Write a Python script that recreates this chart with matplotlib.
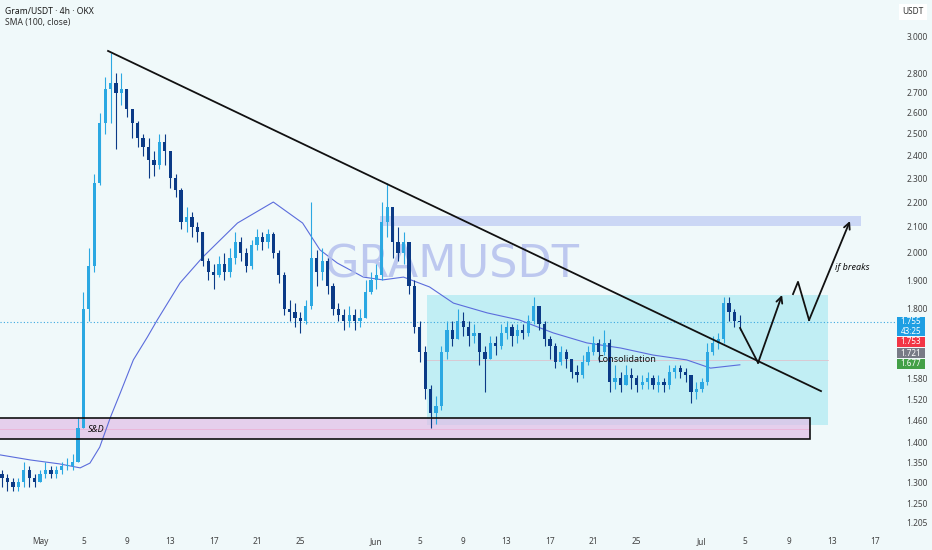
import matplotlib
matplotlib.use("Agg")
import matplotlib.pyplot as plt
from matplotlib.patches import Rectangle

plt.rcParams["font.family"] = ["Noto Sans", "DejaVu Sans"]

# 12h candles, first one at day -3.5 (days counted from May 1)
first_day = -3.5
step = 0.5
closes = [
    1.31, 1.30, 1.29, 1.30, 1.33, 1.31, 1.30, 1.32, 1.33, 1.32,
    1.33, 1.34, 1.34, 1.35, 1.44, 1.80, 1.95, 2.28, 2.55, 2.72,
    2.75, 2.70, 2.72, 2.62, 2.55, 2.48, 2.44, 2.38, 2.36, 2.46,
    2.42, 2.30, 2.25, 2.12, 2.14, 2.10, 2.08, 1.97, 1.93, 1.92,
    1.96, 1.93, 1.98, 2.04, 2.00, 1.95, 2.03, 2.06, 2.04, 2.07,
    2.00, 1.92, 1.80, 1.79, 1.77, 1.76, 1.81, 1.98, 1.93, 1.97,
    1.88, 1.80, 1.78, 1.76, 1.78, 1.76, 1.77, 1.86, 1.90, 1.92,
    2.12, 2.18, 2.04, 2.00, 2.04, 1.88, 1.74, 1.66, 1.55, 1.48,
    1.50, 1.66, 1.73, 1.70, 1.76, 1.74, 1.71, 1.72, 1.66, 1.64,
    1.69, 1.68, 1.72, 1.74, 1.71, 1.73, 1.72, 1.76, 1.81, 1.75,
    1.70, 1.68, 1.63, 1.66, 1.64, 1.60, 1.59, 1.63, 1.66, 1.69,
    1.66, 1.69, 1.57, 1.58, 1.56, 1.59, 1.58, 1.56, 1.57, 1.58,
    1.56, 1.57, 1.56, 1.60, 1.61, 1.60, 1.59, 1.54, 1.55, 1.57,
    1.66, 1.69, 1.70, 1.82, 1.79, 1.76, 1.755,
]
highs = [
    1.33, 1.32, 1.31, 1.31, 1.35, 1.34, 1.32, 1.33, 1.35, 1.34,
    1.34, 1.35, 1.36, 1.37, 1.47, 1.86, 2.02, 2.32, 2.60, 2.78,
    2.91, 2.80, 2.80, 2.72, 2.62, 2.56, 2.50, 2.48, 2.42, 2.50,
    2.50, 2.40, 2.32, 2.26, 2.18, 2.16, 2.12, 2.08, 1.98, 1.96,
    1.99, 2.00, 2.02, 2.08, 2.06, 2.02, 2.05, 2.09, 2.08, 2.09,
    2.08, 2.01, 1.93, 1.83, 1.82, 1.79, 1.83, 2.20, 2.01, 2.02,
    1.98, 1.89, 1.82, 1.80, 1.81, 1.80, 1.80, 1.90, 1.93, 1.96,
    2.20, 2.28, 2.12, 2.10, 2.08, 2.04, 1.90, 1.76, 1.68, 1.56,
    1.53, 1.68, 1.76, 1.76, 1.80, 1.79, 1.76, 1.75, 1.72, 1.68,
    1.71, 1.71, 1.75, 1.76, 1.75, 1.75, 1.75, 1.78, 1.84, 1.81,
    1.76, 1.71, 1.69, 1.68, 1.67, 1.64, 1.62, 1.65, 1.68, 1.71,
    1.70, 1.73, 1.70, 1.62, 1.60, 1.62, 1.61, 1.59, 1.59, 1.60,
    1.59, 1.59, 1.58, 1.62, 1.62, 1.62, 1.61, 1.59, 1.57, 1.58,
    1.69, 1.71, 1.72, 1.84, 1.84, 1.80, 1.78,
]
lows = [
    1.29, 1.28, 1.28, 1.28, 1.29, 1.29, 1.29, 1.30, 1.31, 1.31,
    1.31, 1.32, 1.33, 1.33, 1.35, 1.44, 1.76, 1.93, 2.27, 2.50,
    2.55, 2.43, 2.64, 2.58, 2.48, 2.44, 2.40, 2.30, 2.31, 2.34,
    2.36, 2.26, 2.22, 2.09, 2.08, 2.06, 2.04, 1.95, 1.90, 1.87,
    1.91, 1.90, 1.91, 1.96, 1.97, 1.93, 1.94, 2.01, 2.01, 2.02,
    1.98, 1.89, 1.78, 1.76, 1.74, 1.72, 1.75, 1.80, 1.88, 1.90,
    1.85, 1.78, 1.76, 1.73, 1.74, 1.73, 1.74, 1.77, 1.85, 1.87,
    1.90, 2.06, 1.98, 1.97, 1.96, 1.85, 1.72, 1.63, 1.52, 1.44,
    1.45, 1.49, 1.64, 1.68, 1.70, 1.71, 1.68, 1.69, 1.62, 1.54,
    1.64, 1.65, 1.67, 1.70, 1.68, 1.69, 1.70, 1.71, 1.75, 1.73,
    1.68, 1.64, 1.61, 1.62, 1.61, 1.58, 1.57, 1.58, 1.62, 1.65,
    1.63, 1.65, 1.54, 1.55, 1.54, 1.56, 1.55, 1.54, 1.55, 1.55,
    1.55, 1.54, 1.54, 1.55, 1.58, 1.58, 1.57, 1.51, 1.52, 1.54,
    1.56, 1.65, 1.67, 1.69, 1.76, 1.74, 1.73,
]
# each candle opens at the previous close
opens = [1.32] + closes[:-1]

# SMA(100, close)
sma_days = [-3.7, -0.9, 1.8, 3.7, 4.6, 5.5, 6.5, 7.4, 8.6, 9.9, 10.8, 12.9,
            15.0, 18.2, 21.5, 24.2, 25.8, 27.4, 29.8, 31.6, 33.5, 35.9,
            38.1, 41.2, 44.2, 47.3, 50.4, 53.5, 56.5, 59.6, 61.8, 64.5]
sma_vals = [1.369, 1.356, 1.346, 1.336, 1.348, 1.389, 1.470, 1.538, 1.636,
            1.708, 1.763, 1.890, 1.984, 2.115, 2.200, 2.115, 2.011, 1.962,
            1.911, 1.901, 1.911, 1.876, 1.820, 1.787, 1.763, 1.721, 1.689,
            1.673, 1.651, 1.636, 1.611, 1.621]

date_ticks = [0, 4, 8, 12, 16, 20, 24, 31, 35, 39, 43, 47, 51, 55, 61, 65, 69, 73, 77]
date_labels = ["May", "5", "9", "13", "17", "21", "25", "Jun", "5", "9", "13",
               "17", "21", "25", "Jul", "5", "9", "13", "17"]
price_ticks = [1.205, 1.25, 1.30, 1.35, 1.40, 1.46, 1.52, 1.58, 1.80, 1.90,
               2.00, 2.10, 2.20, 2.30, 2.40, 2.50, 2.60, 2.70, 2.80, 3.00]

last_price = 1.755
tag_texts = ["1.755\n43:25", "1.753", "1.721", "1.677"]
tag_colors = ["#1e9fe3", "#f23645", "#787b86", "#43a047"]

# drawings
trend_days = [6.27, 71.98]
trend_prices = [2.921, 1.543]
consol_box = (35.67, 72.63, 1.448, 1.848)
upper_zone = (31.34, 75.67, 2.103, 2.143)
sd_zone = (-5.0, 70.97, 1.410, 1.467)
path1_days = [64.52, 66.18, 68.39]
path1_prices = [1.737, 1.627, 1.848]
path2_days = [69.4, 69.86, 70.88, 74.65]
path2_prices = [1.851, 1.894, 1.763, 2.123]

bg = "#f0f9fa"
up_col = "#2ba8e2"
down_col = "#0b3a86"

W, H = 932, 550
fig = plt.figure(figsize=(W / 100, H / 100), dpi=100, facecolor=bg)
ax = fig.add_axes([0, 20 / H, 895 / W, 530 / H], facecolor=bg)
ax.set_yscale("log")
ax.set_xlim(-3.69, 78.8)
ax.set_ylim(1.189, 3.214)
for s in ax.spines.values():
    s.set_visible(False)

# zones
x0, x1, y0, y1 = consol_box
ax.fill_between([x0, x1], y0, y1, color="#b2ebf2", alpha=0.75, lw=0, zorder=1)
ax.plot([x0, x1], [(y0 * y1) ** 0.5] * 2, color="#e6b8c4", lw=0.6, alpha=0.8, zorder=1)
x0, x1, y0, y1 = upper_zone
ax.fill_between([x0, x1], y0, y1, color="#b3c1f3", alpha=0.6, lw=0, zorder=1)
x0, x1, y0, y1 = sd_zone
ax.add_patch(Rectangle((x0, y0), x1 - x0, y1 - y0, facecolor="#e1bee7", alpha=0.7,
                       edgecolor="none", zorder=1))
ax.add_patch(Rectangle((x0, y0), x1 - x0, y1 - y0, facecolor="none",
                       edgecolor="#111111", lw=1.2, zorder=4))
ax.plot([x0, x1], [(y0 * y1) ** 0.5] * 2, color="#f0a0c8", lw=0.6, alpha=0.6, zorder=1)

# current price line
ax.axhline(last_price, color="#3aa8e0", lw=0.8, ls=(0, (1, 2)), zorder=2)

# SMA
ax.plot(sma_days, sma_vals, color="#5b6cdc", lw=0.8, zorder=2)

# candles
for i in range(len(closes)):
    d = first_day + i * step
    o, c = opens[i], closes[i]
    col = up_col if c >= o else down_col
    ax.vlines(d, lows[i], highs[i], color=col, lw=0.8, zorder=3)
    ax.bar(d, max(abs(c - o), 0.004), bottom=min(o, c), width=0.3, color=col,
           lw=0, zorder=3)

# trendline and projected paths
ax.plot(trend_days, trend_prices, color="#111111", lw=1.3, zorder=4)
for pd_, pp in [(path1_days, path1_prices), (path2_days, path2_prices)]:
    ax.plot(pd_[:-1], pp[:-1], color="#111111", lw=1.3, zorder=5)
    ax.annotate("", xy=(pd_[-1], pp[-1]), xytext=(pd_[-2], pp[-2]),
                arrowprops=dict(arrowstyle="->", lw=1.3, color="#111111",
                                shrinkA=0, shrinkB=0, mutation_scale=11), zorder=5)

# text on the chart
ax.text(0.505, 0.500, "GRAMUSDT", transform=ax.transAxes, fontsize=32,
        color="#b4c0ee", alpha=0.85, ha="center", va="center",
        family="DejaVu Sans", zorder=2)
ax.text(4.4, 1.436, "S&D", fontsize=6.5, style="italic", weight="bold",
        color="#111111", va="center", zorder=6)
ax.text(51.4, 1.636, "Consolidation", fontsize=6.5, weight="bold",
        color="#111111", va="center", zorder=6)
ax.text(73.3, 1.944, "if breaks", fontsize=6.5, style="italic", weight="bold",
        color="#111111", va="center", zorder=6)

# axes ticks
ax.set_xticks(date_ticks)
ax.set_xticklabels(date_labels)
ax.set_yticks(price_ticks)
ax.set_yticklabels([f"{p:.3f}" for p in price_ticks])
ax.yaxis.set_minor_locator(matplotlib.ticker.NullLocator())
ax.yaxis.tick_right()
ax.tick_params(axis="both", length=0, labelsize=6, labelcolor="#444444")
ax.tick_params(axis="y", pad=8)
ax.tick_params(axis="x", pad=5)

# header
fig.text(5 / W, 1 - 11 / H, "Gram/USDT · 4h · OKX", fontsize=6.2, weight="semibold",
         color="#1a1a1a", va="center")
fig.text(5 / W, 1 - 22 / H, "SMA (100, close)", fontsize=6.2, color="#333333", va="center")
fig.text(913 / W, 1 - 12 / H, "USDT", fontsize=6, color="#333333", ha="center", va="center",
         bbox=dict(boxstyle="square,pad=0.4", fc="white", ec="none"))

# price tags on the right scale
tag_rows = [(317, 336), (337, 347), (348, 358), (359, 369)]
for txt, col, (ya, yb) in zip(tag_texts, tag_colors, tag_rows):
    fig.add_artist(Rectangle((897 / W, 1 - yb / H), 28 / W, (yb - ya) / H,
                             transform=fig.transFigure, facecolor=col, edgecolor="none"))
    fig.text(911 / W, 1 - (ya + yb) / 2 / H, txt, fontsize=5.8, color="white",
             ha="center", va="center", linespacing=1.0)

fig.savefig("out.png", dpi=100, facecolor=bg)
